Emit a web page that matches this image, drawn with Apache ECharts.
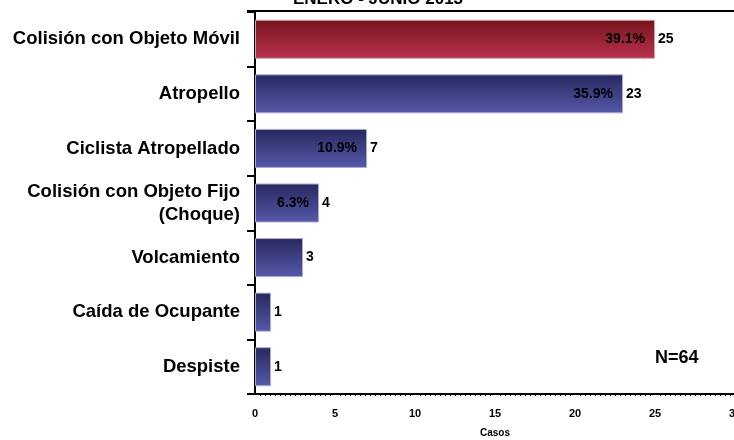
<!DOCTYPE html>
<html>
<head>
<meta charset="utf-8">
<script src="https://cdn.jsdelivr.net/npm/echarts@6/dist/echarts.min.js"></script>
<style>
  html, body { margin: 0; padding: 0; background: #fff; }
  #chart { width: 734px; height: 440px; }
</style>
</head>
<body>
<div id="chart"></div>
<script>
var categories = ['Colisión con Objeto Móvil', 'Atropello', 'Ciclista Atropellado',
    'Colisión con Objeto Fijo\n(Choque)', 'Volcamiento', 'Caída de Ocupante', 'Despiste'];
var casos = [25, 23, 7, 4, 3, 1, 1];
var porcentajes = ['39.1%', '35.9%', '10.9%', '6.3%', null, null, null];
var xTicks = [0, 5, 10, 15, 20, 25, 30];

var myChart = echarts.init(document.getElementById('chart'));

var redFill = new echarts.graphic.LinearGradient(0, 0, 0, 1, [
    { offset: 0, color: '#74141c' },
    { offset: 1, color: '#bb3250' }
]);
var blueFill = new echarts.graphic.LinearGradient(0, 0, 0, 1, [
    { offset: 0, color: '#27285e' },
    { offset: 1, color: '#5659aa' }
]);

var option = {
    animation: false,
    title: {
        text: 'ENERO - JUNIO 2013',
        left: 288,
        top: -14,
        textStyle: {
            color: '#000',
            fontSize: 17,
            fontWeight: 'bold',
            fontFamily: 'Liberation Sans'
        }
    },
    grid: {
        left: 255,
        right: -1,
        top: 12,
        bottom: 46,
        outerBoundsMode: 'none',
        containLabel: false
    },
    xAxis: {
        type: 'value',
        min: xTicks[0],
        max: xTicks[xTicks.length - 1],
        interval: 5,
        name: 'Casos',
        nameLocation: 'middle',
        nameGap: 34,
        nameTextStyle: {
            color: '#000',
            fontSize: 10,
            fontWeight: 'bold',
            fontFamily: 'Liberation Sans'
        },
        axisLine: { show: true, lineStyle: { color: '#000', width: 2 } },
        axisTick: { show: false },
        minorTick: { show: true, splitNumber: 16, length: 2, lineStyle: { color: '#000', width: 1 } },
        splitLine: { show: false },
        axisLabel: {
            color: '#000',
            fontSize: 11,
            fontWeight: 'bold',
            fontFamily: 'Liberation Sans',
            margin: 14,
            hideOverlap: false
        }
    },
    yAxis: {
        type: 'category',
        inverse: true,
        data: categories,
        axisLine: { show: true, lineStyle: { color: '#000', width: 2 } },
        axisTick: { show: true, length: 8, lineStyle: { color: '#000', width: 2 } },
        axisLabel: {
            color: '#000',
            fontSize: 18.5,
            fontWeight: 'bold',
            fontFamily: 'Liberation Sans',
            margin: 15,
            lineHeight: 23
        }
    },
    graphic: [
        {
            type: 'line',
            shape: { x1: 247, y1: 11, x2: 734, y2: 11 },
            style: { stroke: '#000', lineWidth: 2 }
        },
        {
            type: 'text',
            left: 655,
            top: 349,
            style: {
                text: 'N=64',
                fill: '#000',
                font: 'bold 18px "Liberation Sans"'
            }
        }
    ],
    series: [
        {
            name: 'Casos',
            type: 'bar',
            barWidth: 39,
            data: casos.map(function (v, i) {
                return {
                    value: v,
                    itemStyle: {
                        color: i === 0 ? redFill : blueFill,
                        borderColor: i === 0 ? '#d9a0a8' : '#a9abd6',
                        borderWidth: 1
                    }
                };
            }),
            label: {
                show: true,
                position: 'right',
                distance: 3,
                color: '#000',
                fontSize: 14,
                fontWeight: 'bold',
                fontFamily: 'Liberation Sans'
            }
        },
        {
            name: 'Porcentaje',
            type: 'bar',
            barWidth: 39,
            barGap: '-100%',
            silent: true,
            itemStyle: { color: 'rgba(0,0,0,0)' },
            data: casos,
            label: {
                show: true,
                position: 'insideRight',
                distance: 10,
                color: '#000',
                fontSize: 14,
                fontWeight: 'bold',
                fontFamily: 'Liberation Sans',
                formatter: function (p) { return porcentajes[p.dataIndex] || ''; }
            }
        }
    ]
};

myChart.setOption(option);
</script>
</body>
</html>
